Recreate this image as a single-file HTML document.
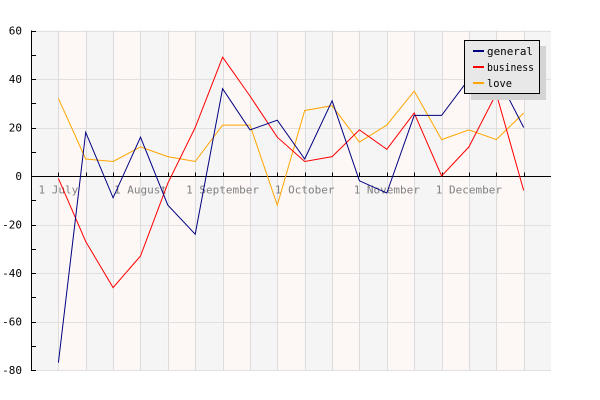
<!DOCTYPE html>
<html><head><meta charset="utf-8"><style>
html,body{margin:0;padding:0;background:#fff;}
svg{display:block;}
text{font-family:"DejaVu Sans Mono","Liberation Mono",monospace;}
</style></head><body>
<svg id="chart" width="600" height="400" viewBox="0 0 600 400" xmlns="http://www.w3.org/2000/svg">
<g id="bands"></g>
<g id="grid"></g>
<g id="axes"></g>
<g id="series"></g>
<g id="legend">
  <rect x="471" y="46" width="75" height="54" fill="#d4d4d4"/>
  <rect x="464.5" y="40.5" width="75" height="53" fill="#e8e8e8" stroke="#000"/>
  <g><line x1="473" y1="51" x2="484" y2="51" stroke="#000080" stroke-width="2"/><text x="487" y="55" font-size="11" textLength="46" lengthAdjust="spacingAndGlyphs" fill="#000">general</text></g>
  <g><line x1="473" y1="67" x2="484" y2="67" stroke="#ff0000" stroke-width="2"/><text x="487" y="71" font-size="11" textLength="47" lengthAdjust="spacingAndGlyphs" fill="#000">business</text></g>
  <g><line x1="473" y1="83" x2="484" y2="83" stroke="#ffa500" stroke-width="2"/><text x="487" y="87" font-size="11" textLength="25" lengthAdjust="spacingAndGlyphs" fill="#000">love</text></g>
</g>
</svg>
<script>
const pointCount = 18;
const general = [-77, 18, -9, 16, -12, -24, 36, 19, 23, 7, 31, -2, -7, 25, 25, 40, 42, 20];
const business = [-1, -27, -46, -33, -3, 20, 49, 33, 16, 6, 8, 19, 11, 26, 0, 12, 34, -6];
const love = [32, 7, 6, 12, 8, 6, 21, 21, -12, 27, 29, 14, 21, 35, 15, 19, 15, 26];
const monthLabels = ["1 July", "1 August", "1 September", "1 October", "1 November", "1 December"];
const monthIndex = [0, 3, 6, 9, 12, 15];
const yTicks = [60, 40, 20, 0, -20, -40, -60, -80];

const NS = "http://www.w3.org/2000/svg";
const plotLeft = 31, plotRight = 551, plotTop = 30.5, plotBottom = 370;
const step = 27.37;
const yMin = -80, yMax = 60;
function xPos(i){ return plotLeft + step * (i + 1); }
function yPos(v){ return plotTop + (yMax - v) / (yMax - yMin) * (plotBottom - plotTop); }
function mk(tag, attrs, parent){ const e=document.createElementNS(NS,tag); for(const k in attrs) e.setAttribute(k,attrs[k]); parent.appendChild(e); return e; }

const bandsG=document.getElementById('bands'), gridG=document.getElementById('grid'), axesG=document.getElementById('axes'), seriesG=document.getElementById('series');
const nb = pointCount + 1;
for(let b=0;b<nb;b++){
  const x0 = plotLeft + step*b, x1 = Math.min(plotRight, plotLeft + step*(b+1));
  const r = mk('rect',{x:x0,y:plotTop,width:x1-x0,height:plotBottom-plotTop,fill: b%2===0 ? '#f5f5f5' : '#fdf8f6'},bandsG);
  
  
}
for(let v=yMin; v<=yMax; v+=20){
  const l = mk('line',{x1:plotLeft,x2:plotRight,y1:Math.round(yPos(v))+0.5,y2:Math.round(yPos(v))+0.5,stroke:'#e0e0e0'},gridG);
  
  
}
for(let i=0;i<pointCount;i++){
  const l = mk('line',{x1:Math.round(xPos(i))+0.5,x2:Math.round(xPos(i))+0.5,y1:plotTop,y2:plotBottom,stroke:'#dcdcdc'},gridG);
  
  
}
const ya = mk('line',{x1:plotLeft+0.5,x2:plotLeft+0.5,y1:plotTop,y2:plotBottom+0.5,stroke:'#000'},axesG);


for(let v=yMin; v<=yMax; v+=10){
  const t = mk('line',{x1:plotLeft,x2:plotLeft+5,y1:Math.round(yPos(v))+0.5,y2:Math.round(yPos(v))+0.5,stroke:'#000'},axesG);
  
  
}
yTicks.forEach(v=>{
  const t = mk('text',{x:22,y:yPos(v)+4,'text-anchor':'end','font-size':'11',fill:'#000'},axesG);
  t.textContent = v;
  
  
});
const y0 = Math.round(yPos(0))+0.5;
const xa = mk('line',{x1:plotLeft,x2:plotRight,y1:y0,y2:y0,stroke:'#000'},axesG);


for(let i=0;i<pointCount;i++){
  const t = mk('line',{x1:Math.round(xPos(i))+0.5,x2:Math.round(xPos(i))+0.5,y1:y0-4,y2:y0,stroke:'#000'},axesG);
  
  
}
monthLabels.forEach((lab,k)=>{
  const t = mk('text',{x:xPos(monthIndex[k]),y:y0+17,'text-anchor':'middle','font-size':'11',fill:'#808080'},axesG);
  t.textContent = lab;
  
  
});
function drawSeries(vals,color,name){
  const pts = vals.map((v,i)=>xPos(i).toFixed(1)+','+yPos(v).toFixed(1)).join(' ');
  const p = mk('polyline',{points:pts,fill:'none',stroke:color,'stroke-width':'1'},seriesG);
  
  
}
drawSeries(love,'#ffa500','love-line');
drawSeries(business,'#ff0000','business-line');
drawSeries(general,'#000080','general-line');
document.getElementById('chart').appendChild(document.getElementById('legend'));
</script>
</body></html>
